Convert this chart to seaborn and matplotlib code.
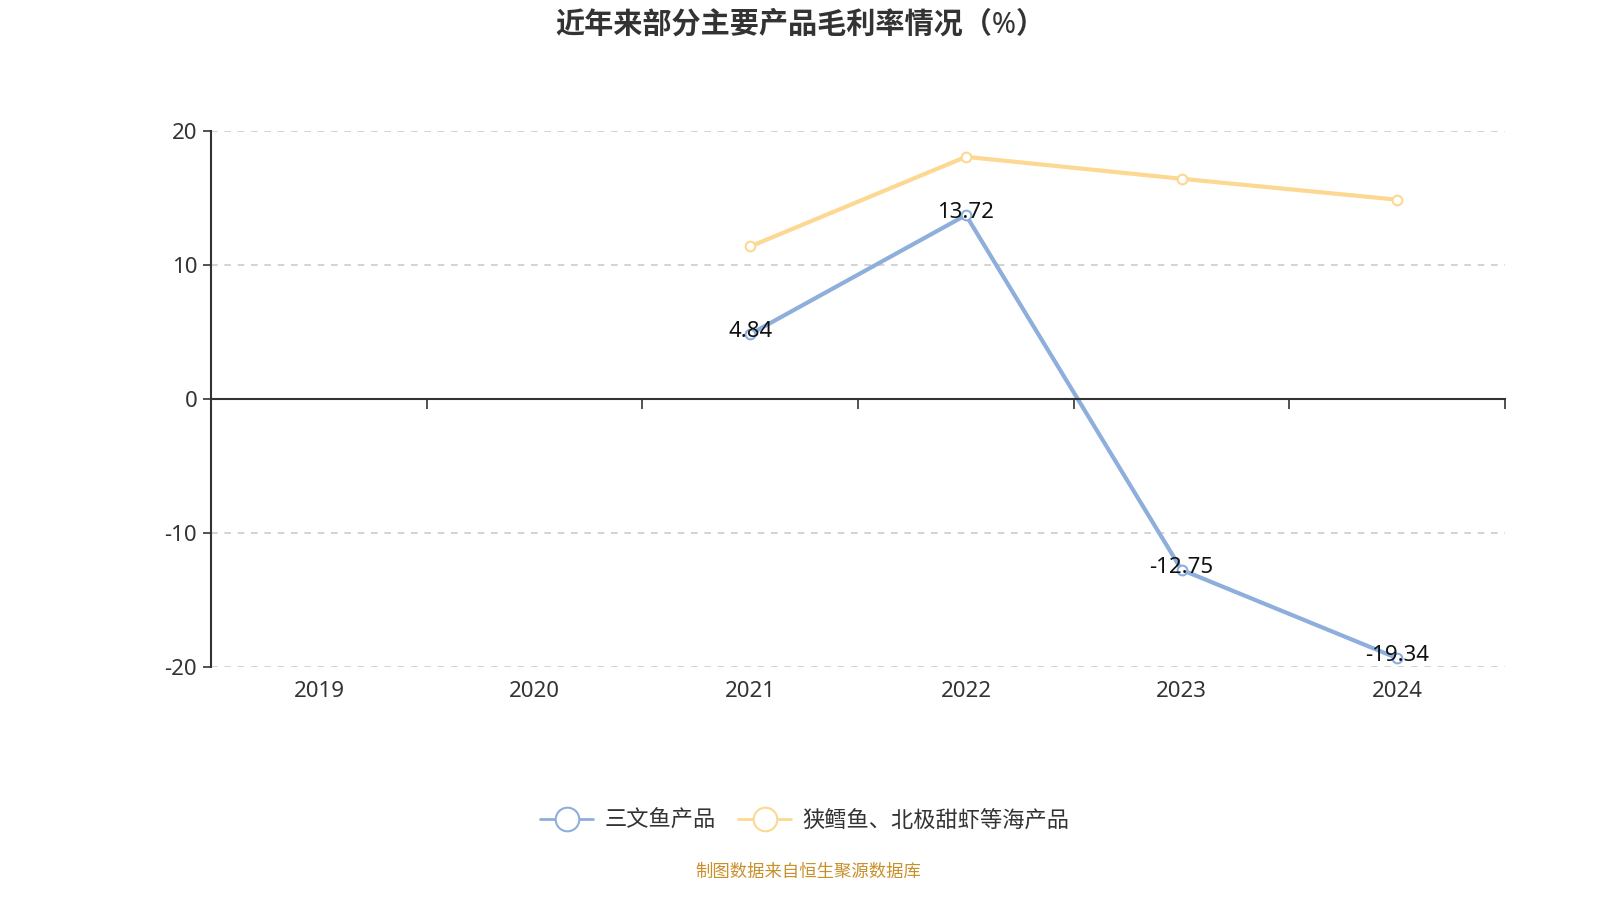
import numpy as np
import pandas as pd
import seaborn as sns
import matplotlib.pyplot as plt
from matplotlib.lines import Line2D
from matplotlib.ticker import FixedLocator

# 数据
years = ['2019', '2020', '2021', '2022', '2023', '2024']
salmon = [np.nan, np.nan, 4.84, 13.72, -12.75, -19.34]
pollock = [np.nan, np.nan, 11.38, 18.07, 16.43, 14.87]
salmon_name = '三文鱼产品'
pollock_name = '狭鳕鱼、北极甜虾等海产品'
title = '近年来部分主要产品毛利率情况（%）'
source = '制图数据来自恒生聚源数据库'

blue = '#8eaedc'
yellow = '#fdd893'

sns.set_style('white')
plt.rcParams['font.family'] = ['Noto Sans', 'Noto Sans CJK SC', 'DejaVu Sans']
plt.rcParams['axes.unicode_minus'] = False

df = pd.DataFrame({'pos': np.arange(len(years)), 'year': years,
                   'salmon': salmon, 'pollock': pollock})

fig = plt.figure(figsize=(16, 9), dpi=100)
ax = fig.add_axes([0.1319, 0.2589, 0.8088, 0.5956])

sns.lineplot(data=df, x='pos', y='pollock', ax=ax, color=yellow, lw=3,
             marker='o', ms=7, mfc='white', mec=yellow, mew=1.5)
sns.lineplot(data=df, x='pos', y='salmon', ax=ax, color=blue, lw=3,
             marker='o', ms=7, mfc='white', mec=blue, mew=1.5)

for x, v in zip(df['pos'], salmon):
    if not np.isnan(v):
        ax.annotate(f'{v:.2f}', (x, v), xytext=(0, 2), textcoords='offset points',
                    ha='center', va='center', fontsize=16, color='#111111')

ax.set_xlim(-0.5, len(years) - 0.5)
ax.set_ylim(-20, 20)
ax.set_yticks([-20, -10, 0, 10, 20])
ax.set_yticklabels(['-20', '-10', '0', '10', '20'])
ax.tick_params(axis='y', left=True, length=6, width=1.2, color='#333333', labelsize=16,
               labelcolor='#333333', pad=4)
for v in [-20, -10, 10, 20]:
    ax.axhline(v, color='#cccccc', lw=1.2, ls=(0, (4, 4)), zorder=0)

# x 轴线位于 0
ax.spines['bottom'].set_position(('data', 0))
ax.spines['bottom'].set_color('#333333')
ax.spines['bottom'].set_linewidth(1.5)
ax.spines['left'].set_color('#333333')
ax.spines['left'].set_linewidth(1.5)
ax.spines['top'].set_visible(False)
ax.spines['right'].set_visible(False)
ax.set_xticks([])
ax.xaxis.set_minor_locator(FixedLocator(np.arange(0.5, len(years), 1.0)))
ax.tick_params(axis='x', which='minor', bottom=True, length=7, width=1.2, color='#333333')
for x, lab in zip(df['pos'], years):
    ax.text(x, -0.045, lab, transform=ax.get_xaxis_transform(), ha='center',
            va='center', fontsize=16, color='#333333')
ax.set_xlabel('')
ax.set_ylabel('')

fig.text(0.5, 0.972, title, ha='center', va='center', fontsize=21,
         fontweight='bold', color='#333333')

handles = [Line2D([], [], color=blue, lw=2, marker='o', ms=17, mfc='white', mec=blue, mew=1.5),
           Line2D([], [], color=yellow, lw=2, marker='o', ms=17, mfc='white', mec=yellow, mew=1.5)]
fig.legend(handles, [salmon_name, pollock_name], loc='center', bbox_to_anchor=(0.503, 0.088),
           ncol=2, frameon=False, fontsize=16, handlelength=2.4, columnspacing=1.0,
           handletextpad=0.5, labelcolor='#333333')

fig.text(0.505, 0.031, source, ha='center', va='center', fontsize=12.5, color='#c8902a')

fig.savefig('out.png', dpi=100)
